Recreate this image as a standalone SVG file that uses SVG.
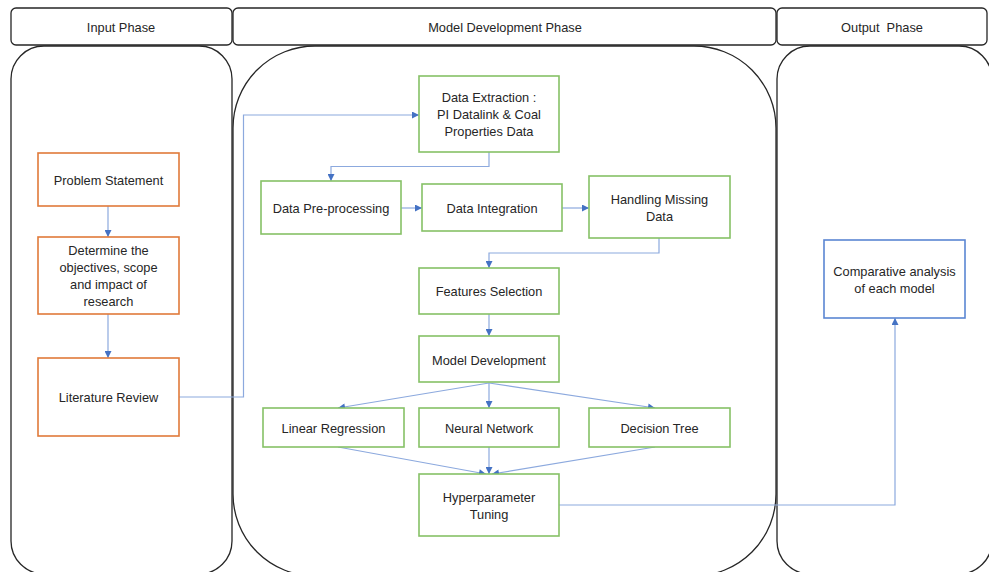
<svg xmlns="http://www.w3.org/2000/svg" width="989" height="572" viewBox="0 0 989 572">
<defs>
<marker id="ah" viewBox="0 0 10 10" refX="10" refY="5" markerWidth="8" markerHeight="7" markerUnits="userSpaceOnUse" orient="auto">
<path d="M0,0 L10,5 L0,10 z" fill="#4472C4"/>
</marker>
</defs>
<style>
.lane{fill:none;stroke:#262626;stroke-width:1.3}
.hdr{fill:#fff;stroke:#262626;stroke-width:1.3}
.or{fill:#fff;stroke:#E07A3A;stroke-width:1.6}
.gr{fill:#fff;stroke:#86C166;stroke-width:1.6}
.bl{fill:#fff;stroke:#5B86D3;stroke-width:1.6}
text{font-family:"Liberation Sans",Arial,sans-serif;font-size:12.8px;fill:#262626;text-anchor:middle}
.c{fill:none;stroke:#8CA9DE;stroke-width:1.2}
</style>
<rect width="989" height="572" fill="#fff"/>
<g id="lanes">
<rect class="lane" x="11" y="46" width="221" height="528" rx="33" ry="33"/>
<rect class="lane" x="233" y="46" width="543" height="530" rx="82" ry="82"/>
<rect class="lane" x="777" y="46" width="215" height="528" rx="33" ry="33"/>
</g>
<g id="hdr-input"><rect class="hdr" x="11" y="8" width="221" height="37" rx="5"/><text x="121" y="31.5">Input Phase</text></g>
<g id="hdr-model"><rect class="hdr" x="233" y="8" width="543" height="37" rx="5"/><text x="505" y="31.5">Model Development Phase</text></g>
<g id="hdr-output"><rect class="hdr" x="777" y="8" width="210" height="37" rx="5"/><text x="882" y="32" xml:space="preserve">Output  Phase</text></g>
<g id="connectors" marker-end="url(#ah)">
<path class="c" d="M108,206 V237"/>
<path class="c" d="M108,314 V358"/>
<path class="c" d="M179,397 H243.5 V115 H419"/>
<path class="c" d="M489,152 V166.5 H331 V181"/>
<path class="c" d="M401,208 H422"/>
<path class="c" d="M562,208 H589"/>
<path class="c" d="M659,238 V253 H489 V268"/>
<path class="c" d="M489,314 V336"/>
<path class="c" d="M489,383 L338,408"/>
<path class="c" d="M489,383 V408"/>
<path class="c" d="M489,383 L655,408"/>
<path class="c" d="M338,447 L486,474"/>
<path class="c" d="M489,447 V474"/>
<path class="c" d="M655,447 L492,474"/>
<path class="c" d="M559,505 H895 V318"/>
</g>
<g id="problem"><rect class="or" x="38" y="153" width="141" height="53"/><text x="108.5" y="184.5">Problem Statement</text></g>
<g id="objectives"><rect class="or" x="38" y="237" width="141" height="77"/><text x="108.5" y="254.5">Determine the</text><text x="108.5" y="271.5">objectives, scope</text><text x="108.5" y="288.5">and impact of</text><text x="108.5" y="305.5">research</text></g>
<g id="literature"><rect class="or" x="38" y="358" width="141" height="78"/><text x="108.5" y="401.5">Literature Review</text></g>
<g id="extraction"><rect class="gr" x="419" y="76" width="140" height="76"/><text x="489" y="101.5">Data Extraction :</text><text x="489" y="118.5">PI Datalink &amp; Coal</text><text x="489" y="135.5">Properties Data</text></g>
<g id="preprocessing"><rect class="gr" x="261" y="181" width="140" height="53"/><text x="331" y="212.5">Data Pre-processing</text></g>
<g id="integration"><rect class="gr" x="422" y="184" width="140" height="47"/><text x="492" y="212.5">Data Integration</text></g>
<g id="missing"><rect class="gr" x="589" y="176" width="141" height="62"/><text x="659.5" y="203.5">Handling Missing</text><text x="659.5" y="220.5">Data</text></g>
<g id="features"><rect class="gr" x="419" y="268" width="140" height="46"/><text x="489" y="295.5">Features Selection</text></g>
<g id="modeldev"><rect class="gr" x="419" y="336" width="140" height="46"/><text x="489" y="364.5">Model Development</text></g>
<g id="linear"><rect class="gr" x="263" y="408" width="141" height="39"/><text x="333.5" y="432.5">Linear Regression</text></g>
<g id="neural"><rect class="gr" x="419" y="408" width="140" height="39"/><text x="489" y="432.5">Neural Network</text></g>
<g id="decision"><rect class="gr" x="589" y="408" width="141" height="39"/><text x="659.5" y="432.5">Decision Tree</text></g>
<g id="hyper"><rect class="gr" x="419" y="474" width="140" height="62"/><text x="489" y="501.5">Hyperparameter</text><text x="489" y="518.5">Tuning</text></g>
<g id="comparative"><rect class="bl" x="824" y="240" width="141" height="78"/><text x="894.5" y="275.5">Comparative analysis</text><text x="894.5" y="292.5">of each model</text></g>
</svg>
